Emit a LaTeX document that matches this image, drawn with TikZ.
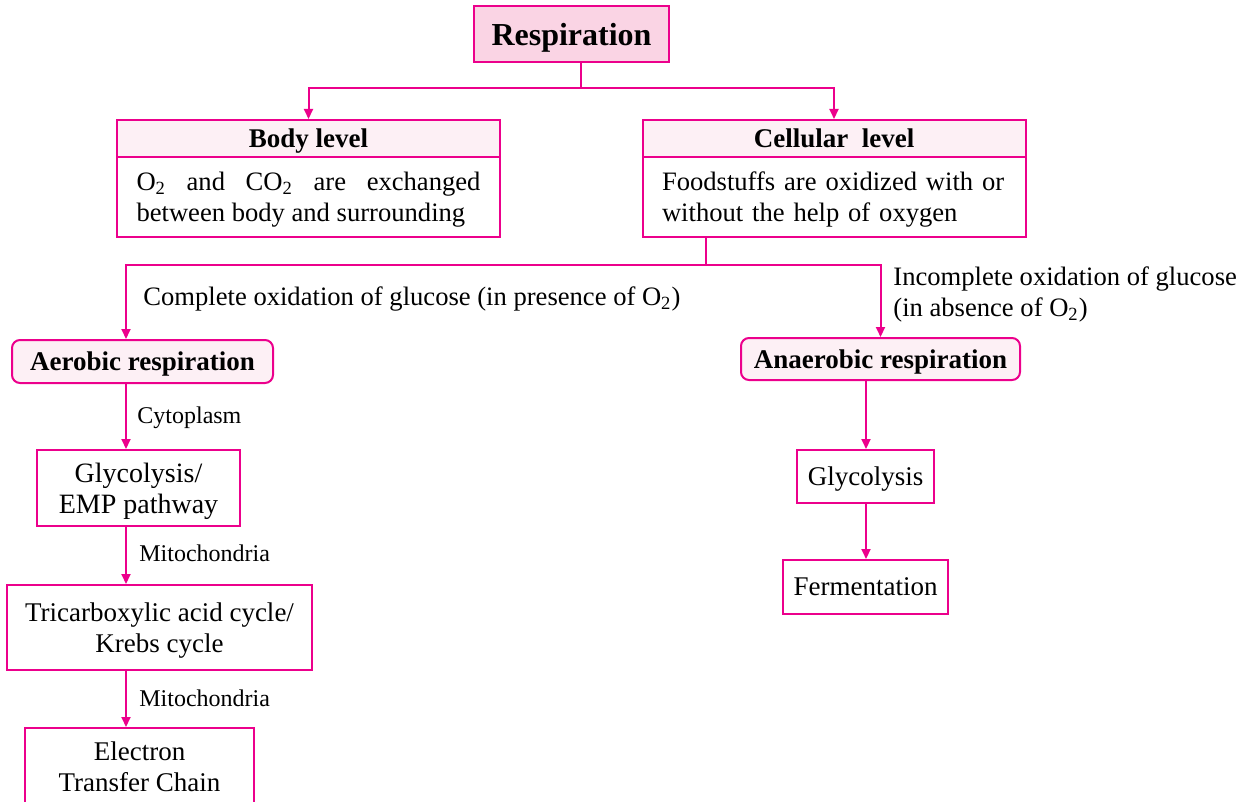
\documentclass[tikz,border=0pt]{standalone}
\usepackage{fontspec}
\setmainfont{Liberation Serif}
\usetikzlibrary{positioning,arrows.meta}
\definecolor{magline}{RGB}{236,0,140}
\definecolor{respfill}{RGB}{250,212,228}
\definecolor{headfill}{RGB}{253,240,245}

\begin{document}
\begin{tikzpicture}[-,>={Triangle[length=5pt,width=4.5pt]},x=0.5pt,y=-0.5pt,
    conn/.style={draw=magline,line width=1pt},
    arr/.style={conn,->},
    box/.style={draw=magline,line width=1pt,fill=white,align=center,inner sep=0pt,text depth=0pt,font=\fontsize{13.5}{15.5}\selectfont},
    head/.style={box,fill=headfill,font=\bfseries\fontsize{13.5}{16}\selectfont},
    kind/.style={head,rounded corners=4pt},
    para/.style={box,minimum width=191.5pt,minimum height=40pt,text width=172pt,text depth=,text height=12pt,font=\fontsize{13.3}{15.5}\selectfont},
    lab/.style={inner sep=0pt,font=\fontsize{13.3}{15.5}\selectfont},
    small/.style={inner sep=0pt,font=\fontsize{12}{14}\selectfont}]
    \useasboundingbox (0,0) rectangle (1246,802);

    % top
    \node[box,fill=respfill,minimum width=97.5pt,minimum height=28pt,font=\bfseries\fontsize{16}{19}\selectfont] (resp) at (571.5,34) {Respiration};

    % body and cellular level
    \node[head,minimum width=191.5pt,minimum height=18.5pt] (bodyhead) at (308.5,138.5) {Body level};
    \node[para,align=justify] (bodytxt) [below=-1pt of bodyhead]
        {O\textsubscript{2} and CO\textsubscript{2} are exchanged \linebreak between body and surrounding};
    \node[head,minimum width=191.5pt,minimum height=18.5pt] (cellhead) at (834,138.5) {Cellular\ \ level};
    \node[para,align=left] (celltxt) [below=-1pt of cellhead]
        {Foodstuffs are oxidized with or\\without the help of oxygen};

    % aerobic side
    \node[kind,minimum width=130.5pt,minimum height=21.5pt] (aer) at (142.5,361.5) {Aerobic respiration};
    \node[box,minimum width=101.5pt,minimum height=38pt,font=\fontsize{14}{15.5}\selectfont] (glyemp) at (138.5,488) {Glycolysis/\\EMP pathway};
    \node[box,minimum width=152.5pt,minimum height=42.5pt] (tca) at (159.5,627.5) {Tricarboxylic acid cycle/\\Krebs cycle};
    \node[box,minimum width=114.5pt,minimum height=39pt] (etc) at (139.5,767) {Electron\\Transfer Chain};

    % anaerobic side
    \node[kind,minimum width=139.5pt,minimum height=21pt] (anaer) at (880.5,359) {Anaerobic respiration};
    \node[box,minimum width=68.5pt,minimum height=26.5pt] (gly) at (865.5,476.5) {Glycolysis};
    \node[box,minimum width=82.5pt,minimum height=27pt] (ferm) at (865.5,587) {Fermentation};

    % labels
    \node[lab,anchor=west] (complete) at (143,299) {Complete oxidation of glucose (in presence of O\textsubscript{2})};
    \node[lab,anchor=north west,align=left] (incomplete) at (893,266) {Incomplete oxidation of glucose\\(in absence of O\textsubscript{2})};
    \node[small,anchor=west] (cyto) at (137,418) {Cytoplasm};
    \node[small,anchor=west] (mito1) at (139,553) {Mitochondria};
    \node[small,anchor=west] (mito2) at (139,698) {Mitochondria};

    % junctions
    \coordinate (j1) at (581,88);
    \coordinate (j2) at (706,265);
    \coordinate (acol) at (126,0);
    \coordinate (bcol) at (866,0);

    \draw[conn] (j1 |- resp.south) -- (j1);
    \draw[arr] (j1) -| (bodyhead.north);
    \draw[arr] (j1) -| (cellhead.north);
    \draw[conn] (j2 |- celltxt.south) -- (j2);
    \draw[arr] (j2) -| (aer.north -| acol);
    \draw[arr] (j2) -| (anaer.north);

    \draw[arr] (aer.south -| acol) -- (glyemp.north -| acol);
    \draw[arr] (glyemp.south -| acol) -- (tca.north -| acol);
    \draw[arr] (tca.south -| acol) -- (etc.north -| acol);
    \draw[arr] (anaer.south -| bcol) -- (gly.north -| bcol);
    \draw[arr] (gly.south -| bcol) -- (ferm.north -| bcol);
\end{tikzpicture}
\end{document}
